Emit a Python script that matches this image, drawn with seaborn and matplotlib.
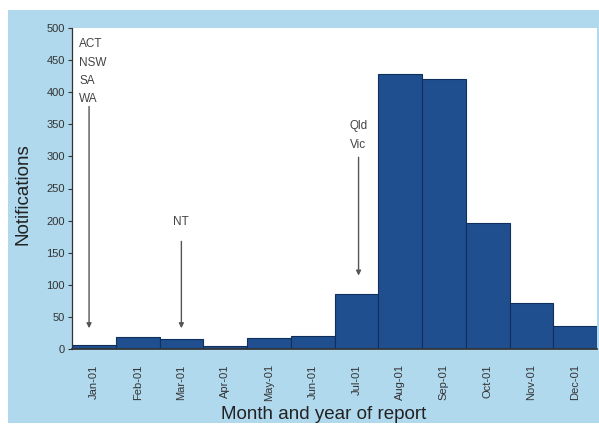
import matplotlib
matplotlib.use("Agg")
import matplotlib.pyplot as plt
from matplotlib.patches import Rectangle
import seaborn as sns
import pandas as pd

months = ["Jan-01", "Feb-01", "Mar-01", "Apr-01", "May-01", "Jun-01",
          "Jul-01", "Aug-01", "Sep-01", "Oct-01", "Nov-01", "Dec-01"]
notifications = [7, 19, 15, 4, 17, 20, 86, 428, 420, 197, 72, 36]
yticks = [0, 50, 100, 150, 200, 250, 300, 350, 400, 450, 500]

sns.set_theme(style="white")
plt.rcParams["font.family"] = ["Liberation Sans", "DejaVu Sans"]

df = pd.DataFrame({"month": months, "n": notifications})

fig = plt.figure(figsize=(5.99, 4.25), dpi=100, facecolor="white")
bg = Rectangle((8 / 599, 1 - 423 / 425), 1 - 8 / 599, (423 - 10) / 425,
               transform=fig.transFigure, facecolor="#b0d9ee", edgecolor="none", zorder=-10)
fig.add_artist(bg)

ax = fig.add_axes([72 / 599, 1 - 349 / 425, (597 - 72) / 599, (349 - 28) / 425])
ax.set_zorder(5)
ax.set_facecolor("white")
sns.barplot(data=df, x="month", y="n", color="#1f4f8f", width=1.0,
            edgecolor="#0f2f5c", linewidth=0.8, saturation=1, ax=ax)
ax.set_xlim(-0.5, 11.5)
ax.set_ylim(0, 500)
ax.set_yticks(yticks)
ax.set_yticklabels([str(t) for t in yticks], fontsize=8, color="#333333")
ax.set_xticks(range(len(months)))
ax.set_xticklabels(months, rotation=90, fontsize=8, color="#333333")
ax.tick_params(axis="y", direction="out", length=3, width=0.8, color="#333333", pad=2, left=True)
ax.tick_params(axis="x", length=0, pad=11)
for s in ["top", "right"]:
    ax.spines[s].set_visible(False)
ax.spines["left"].set_color("#333333")
ax.spines["bottom"].set_color("#333333")
ax.spines["left"].set_linewidth(0.9)
ax.set_ylabel("Notifications", fontsize=13.5, color="#222222")
ax.set_xlabel("Month and year of report", fontsize=13.5, color="#222222")
ax.yaxis.set_label_coords(-0.093, 0.481)
ax.xaxis.set_label_coords(0.48, -0.2025)
ax.xaxis.label.set_verticalalignment("center")
ax.yaxis.label.set_verticalalignment("center")

arrow_kw = dict(arrowstyle="-|>", color="#555555", lw=1.0, mutation_scale=7)
# Jan annotation
ax.text(-0.34, 484, "ACT\nNSW\nSA\nWA", fontsize=8.5, color="#444444", va="top",
        ha="left", linespacing=1.7)
ax.annotate("", xy=(-0.11, 28), xytext=(-0.11, 382), arrowprops=arrow_kw)
# Mar annotation
ax.text(2.0, 188, "NT", fontsize=8.5, color="#444444", ha="center", va="bottom")
ax.annotate("", xy=(2.0, 28), xytext=(2.0, 172), arrowprops=arrow_kw)
# Jul annotation
ax.text(5.85, 356, "Qld\nVic", fontsize=8.5, color="#444444", ha="left", va="top",
        linespacing=1.7)
ax.annotate("", xy=(6.05, 110), xytext=(6.05, 303), arrowprops=arrow_kw)

fig.savefig("out.png", dpi=100, facecolor="white")
